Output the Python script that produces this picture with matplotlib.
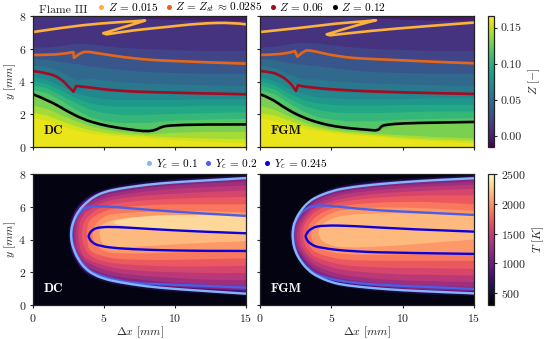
import numpy as np
import matplotlib
matplotlib.use("Agg")
import matplotlib.pyplot as plt
from matplotlib.path import Path
from matplotlib.patches import PathPatch
from matplotlib.lines import Line2D
from matplotlib.cm import ScalarMappable
from matplotlib.colors import Normalize

plt.rcParams.update({"font.family": "cmr10", "mathtext.fontset": "cm", "font.size": 8.5,
                     "axes.formatter.use_mathtext": True, "axes.unicode_minus": False,
                     "axes.linewidth": 0.9, "axes.edgecolor": "#222222"})

W, H = 549, 339

# ---- mixture fraction panels: band edges y(x) ----
Z_X = [0, 1, 2, 3, 4, 5, 6, 8, 10, 12, 15]
Z_EDGES = [.160, .148, .136, .124, .112, .100, .088, .076, .064, .052, .040, .028, .018, .004]
Z_DC = [
    [1.8, 1.6, 1.3, 1.05, .85, .75, .68, .55, .45, .35, .25],
    [2.1, 1.95, 1.6, 1.3, 1.05, .9, .8, .7, .6, .55, .5],
    [2.55, 2.35, 1.95, 1.6, 1.3, 1.1, .95, .8, .9, .95, .95],
    [3.25, 3.0, 2.4, 1.85, 1.5, 1.25, 1.1, 1.0, 1.35, 1.4, 1.42],
    [3.5, 3.3, 2.85, 2.3, 1.85, 1.6, 1.5, 1.5, 1.65, 1.7, 1.75],
    [3.8, 3.6, 3.15, 2.7, 2.3, 2.1, 2.0, 2.0, 2.05, 2.1, 2.15],
    [4.05, 3.85, 3.45, 3.0, 2.7, 2.55, 2.5, 2.5, 2.5, 2.55, 2.55],
    [4.3, 4.1, 3.7, 3.3, 3.1, 2.95, 2.9, 2.9, 2.9, 2.95, 2.95],
    [4.65, 4.5, 4.15, 3.5, 3.6, 3.4, 3.35, 3.3, 3.25, 3.25, 3.2],
    [5.0, 4.9, 4.6, 4.1, 4.2, 4.1, 4.0, 3.9, 3.85, 3.8, 3.75],
    [5.4, 5.35, 5.2, 5.1, 4.95, 4.85, 4.75, 4.6, 4.55, 4.5, 4.5],
    [5.75, 5.75, 5.8, 5.85, 5.85, 5.75, 5.6, 5.45, 5.35, 5.3, 5.3],
    [6.1, 6.1, 6.2, 6.35, 6.3, 6.2, 6.1, 6.0, 5.95, 5.9, 5.9],
    [8.1, 8.1, 8.1, 8.1, 8.1, 8.1, 8.1, 7.85, 7.8, 7.75, 7.75],
]
Z_FGM = [
    [1.8, 1.6, 1.35, 1.15, 1.0, .9, .8, .65, .5, .4, .25],
    [2.1, 1.95, 1.65, 1.35, 1.15, 1.0, .9, .75, .6, .5, .4],
    [2.55, 2.3, 1.9, 1.55, 1.3, 1.1, 1.0, .85, .75, .65, .55],
    [3.25, 2.95, 2.3, 1.8, 1.45, 1.25, 1.1, 1.0, 1.5, 1.52, 1.55],
    [3.5, 3.25, 2.7, 2.2, 1.85, 1.7, 1.6, 1.6, 1.7, 1.75, 1.8],
    [3.8, 3.55, 3.0, 2.55, 2.3, 2.15, 2.1, 2.1, 2.15, 2.2, 2.2],
    [4.05, 3.8, 3.3, 2.9, 2.7, 2.6, 2.55, 2.55, 2.6, 2.6, 2.6],
    [4.3, 4.05, 3.6, 3.25, 3.05, 3.0, 2.95, 2.95, 2.95, 3.0, 3.0],
    [4.65, 4.45, 4.05, 3.55, 3.5, 3.4, 3.35, 3.3, 3.25, 3.25, 3.2],
    [5.0, 4.85, 4.45, 4.15, 4.15, 4.05, 4.0, 3.9, 3.85, 3.8, 3.75],
    [5.4, 5.35, 5.15, 5.05, 4.95, 4.85, 4.75, 4.6, 4.55, 4.5, 4.5],
    [5.75, 5.75, 5.85, 5.9, 5.85, 5.75, 5.6, 5.45, 5.35, 5.3, 5.25],
    [6.1, 6.15, 6.3, 6.4, 6.35, 6.25, 6.15, 6.0, 5.95, 5.9, 5.9],
    [8.1, 8.1, 8.1, 8.1, 8.1, 8.1, 8.1, 7.9, 7.8, 7.75, 7.75],
]
# iso-Z lines (a repeated point keeps a sharp corner)
Z015_DC_X = [0, 2.37, 4.72, 7.3, 7.89, 7.89, 6.83, 4.95, 4.95, 5.19, 5.19, 7.07, 9.41, 11.76, 14.1, 15]
Z015_DC_Y = [7.02, 7.33, 7.55, 7.69, 7.72, 7.72, 7.43, 6.95, 6.95, 6.88, 6.88, 7.13, 7.33, 7.55, 7.6, 7.49]
Z0285_DC_X = [0, 1.2, 2.37, 2.84, 2.84, 2.89, 2.89, 3.31, 3.73, 4.72, 7.07, 9.41, 15]
Z0285_DC_Y = [5.62, 5.62, 5.72, 5.8, 5.8, 5.44, 5.44, 5.72, 5.85, 5.7, 5.4, 5.25, 5.09]
Z06_DC_X = [0, 1.2, 2.02, 2.49, 2.85, 2.85, 3.03, 3.03, 3.54, 5.9, 9.41, 15]
Z06_DC_Y = [4.64, 4.5, 4.13, 3.69, 3.38, 3.38, 3.72, 3.72, 3.69, 3.42, 3.32, 3.22]
Z12_DC_X = [0, 1.2, 2.37, 3.54, 4.72, 5.9, 7.07, 8, 8.6, 9.06, 9.65, 11.76, 15]
Z12_DC_Y = [3.22, 2.81, 2.2, 1.69, 1.38, 1.18, 1.04, .95, 1.02, 1.24, 1.32, 1.38, 1.38]
Z015_FGM_X = [0, 3.04, 5.37, 7.6, 8.13, 8.13, 7.0, 4.67, 4.67, 4.9, 4.9, 7.7, 11.2, 15]
Z015_FGM_Y = [7.02, 7.29, 7.55, 7.69, 7.74, 7.74, 7.49, 6.88, 6.88, 6.82, 6.82, 7.09, 7.35, 7.6]
Z0285_FGM_X = [0, .7, 1.87, 2.45, 2.45, 2.62, 2.62, 3.04, 3.39, 5.37, 7.7, 15]
Z0285_FGM_Y = [5.62, 5.63, 5.72, 5.86, 5.86, 5.52, 5.52, 5.82, 5.95, 5.52, 5.36, 5.11]
Z06_FGM_X = [0, .7, 1.4, 1.98, 2.33, 2.52, 2.52, 2.66, 2.66, 3.04, 5.37, 10.05, 15]
Z06_FGM_Y = [4.64, 4.6, 4.38, 4.03, 3.69, 3.42, 3.42, 3.77, 3.77, 3.69, 3.48, 3.32, 3.24]
Z12_FGM_X = [0, .7, 1.87, 3.04, 4.2, 5.37, 6.54, 7.7, 8.3, 8.46, 8.76, 10.05, 12.4, 15]
Z12_FGM_Y = [3.22, 3.02, 2.3, 1.79, 1.45, 1.24, 1.12, 1.04, 1.0, 1.24, 1.36, 1.45, 1.49, 1.53]

# ---- temperature panels: closed iso-T contours ----
T_X = [3, 3.5, 4, 5, 6, 8, 10, 12, 15]
T_EDGES = [450, 750, 1050, 1200, 1350, 1500, 1650, 1800, 1950, 2100, 2250]
# (nose x, nose y, upper y at stations, lower y at stations; lists are aligned to the right of T_X)
T_DC = [
    (2.5, 4.3, [5.95, 6.4, 6.75, 7.1, 7.3, 7.55, 7.7, 7.8, 7.95], [2.65, 2.05, 1.75, 1.4, 1.2, .95, .8, .7, .55]),
    (2.6, 4.3, [5.85, 6.3, 6.65, 7.0, 7.2, 7.45, 7.6, 7.7, 7.85], [2.75, 2.15, 1.85, 1.5, 1.3, 1.05, .9, .8, .65]),
    (2.75, 4.3, [5.6, 6.15, 6.45, 6.85, 7.05, 7.3, 7.45, 7.55, 7.7], [2.95, 2.35, 2.05, 1.7, 1.5, 1.25, 1.1, 1.0, .9]),
    (2.85, 4.3, [5.4, 6.0, 6.3, 6.7, 6.9, 7.15, 7.3, 7.42, 7.55], [3.15, 2.55, 2.25, 1.9, 1.7, 1.5, 1.35, 1.25, 1.15]),
    (3.0, 4.3, [5.75, 6.1, 6.5, 6.7, 6.95, 7.1, 7.2, 7.3], [2.8, 2.5, 2.15, 1.95, 1.75, 1.65, 1.55, 1.5]),
    (3.2, 4.3, [5.5, 5.85, 6.3, 6.5, 6.7, 6.8, 6.9, 7.0], [3.0, 2.7, 2.4, 2.2, 2.05, 2.0, 1.95, 1.95]),
    (3.45, 4.3, [5.6, 6.05, 6.25, 6.4, 6.5, 6.55, 6.6], [2.95, 2.65, 2.5, 2.4, 2.35, 2.35, 2.4]),
    (3.8, 4.3, [5.25, 5.75, 5.95, 6.1, 6.15, 6.15, 6.15], [3.25, 2.95, 2.8, 2.75, 2.75, 2.8, 2.85]),
    (4.2, 4.3, [5.45, 5.6, 5.7, 5.75, 5.75, 5.65], [3.25, 3.15, 3.15, 3.2, 3.25, 3.35]),
    (4.7, 4.4, [5.0, 5.3, 5.4, 5.4, 5.4, 5.3], [3.55, 3.5, 3.6, 3.7, 3.8, 3.9]),
    (5.7, 5.05, [5.2, 5.45, 5.5, 5.5, 5.45], [4.9, 4.65, 4.55, 4.5, 4.45]),
]
T_FGM = [
    (2.1, 4.3, [5.95, 6.45, 6.8, 7.15, 7.35, 7.6, 7.7, 7.8, 7.95], [2.45, 1.95, 1.6, 1.25, 1.05, .85, .72, .62, .55]),
    (2.2, 4.3, [5.85, 6.35, 6.7, 7.05, 7.25, 7.5, 7.6, 7.7, 7.85], [2.55, 2.05, 1.7, 1.35, 1.15, .95, .82, .72, .65]),
    (2.35, 4.3, [5.65, 6.2, 6.55, 6.9, 7.1, 7.35, 7.45, 7.55, 7.7], [2.75, 2.25, 1.9, 1.55, 1.35, 1.15, 1.0, .9, .85]),
    (2.45, 4.3, [5.5, 6.05, 6.4, 6.75, 6.95, 7.2, 7.3, 7.42, 7.55], [2.95, 2.45, 2.1, 1.75, 1.55, 1.35, 1.25, 1.15, 1.1]),
    (2.6, 4.3, [5.3, 5.85, 6.2, 6.55, 6.8, 7.0, 7.15, 7.25, 7.35], [3.15, 2.65, 2.35, 2.0, 1.8, 1.6, 1.5, 1.45, 1.4]),
    (2.8, 4.3, [5.05, 5.65, 6.0, 6.35, 6.55, 6.8, 6.9, 7.0, 7.1], [3.4, 2.9, 2.6, 2.3, 2.1, 1.95, 1.85, 1.85, 1.8]),
    (3.0, 4.3, [5.4, 5.8, 6.15, 6.35, 6.55, 6.65, 6.7, 6.7], [3.15, 2.85, 2.6, 2.4, 2.3, 2.25, 2.25, 2.2]),
    (3.3, 4.3, [5.0, 5.5, 5.9, 6.1, 6.25, 6.3, 6.3, 6.15], [3.5, 3.15, 2.9, 2.75, 2.7, 2.7, 2.7, 2.7]),
    (3.6, 4.3, [5.1, 5.65, 5.85, 5.95, 5.95, 5.9, 5.75], [3.5, 3.2, 3.1, 3.05, 3.1, 3.1, 3.15]),
    (4.1, 4.4, [5.3, 5.5, 5.6, 5.6, 5.55, 5.5], [3.6, 3.5, 3.55, 3.65, 3.8, 4.0]),
]
# iso-Yc lines, upper right -> nose -> lower right
Y1_DC_X = [15, 12, 10, 8, 6, 5, 4.3, 3.7, 3.2, 2.85, 2.68, 2.68, 2.85, 3.2, 3.7, 4.3, 5, 6, 8, 10, 12, 15]
Y1_DC_Y = [7.75, 7.6, 7.5, 7.35, 7.1, 6.9, 6.62, 6.22, 5.75, 5.15, 4.6, 4.0, 3.4, 2.75, 2.2, 1.85, 1.6, 1.4, 1.13, .98, .86, .69]
Y2_DC_X = [15, 11.76, 8.24, 5.66, 4.48, 3.8, 3.3, 2.88, 2.71, 2.71, 2.88, 3.25, 3.72, 4.3, 5.42, 7.07, 9.41, 11.76, 15]
Y2_DC_Y = [5.44, 5.6, 5.8, 6.0, 6.03, 6.0, 5.72, 5.12, 4.6, 4.0, 3.42, 2.78, 2.28, 1.92, 1.62, 1.32, 1.26, 1.18, 1.06]
Y3_DC_X = [15, 11.76, 8.24, 5.9, 4.72, 4.2, 3.92, 3.92, 4.2, 4.72, 5.9, 8.24, 11.76, 15]
Y3_DC_Y = [4.38, 4.48, 4.64, 4.77, 4.76, 4.62, 4.3, 4.1, 3.78, 3.6, 3.46, 3.36, 3.3, 3.3]
Y1_FGM_X = [15, 12, 10, 8, 6, 5, 4, 3.4, 2.85, 2.45, 2.29, 2.29, 2.45, 2.85, 3.4, 4, 5, 6, 8, 10, 12, 15]
Y1_FGM_Y = [7.74, 7.62, 7.5, 7.36, 7.15, 6.95, 6.62, 6.3, 5.78, 5.15, 4.6, 3.95, 3.3, 2.65, 2.1, 1.75, 1.38, 1.2, 1.02, .9, .82, .71]
Y2_FGM_X = [15, 11.2, 7.7, 4.9, 3.74, 3.1, 2.48, 2.32, 2.32, 2.48, 2.88, 3.42, 4.2, 6.54, 10.05, 15]
Y2_FGM_Y = [5.5, 5.66, 5.8, 6.07, 6.08, 5.85, 5.15, 4.6, 3.95, 3.32, 2.7, 2.18, 1.72, 1.32, 1.16, .98]
Y3_FGM_X = [15, 10.05, 6.54, 4.44, 3.6, 3.2, 3.2, 3.5, 4.2, 6.54, 10.05, 15]
Y3_FGM_Y = [4.48, 4.64, 4.83, 4.87, 4.72, 4.3, 4.1, 3.72, 3.48, 3.26, 3.18, 3.12]

Z_LABELS = [r"$Z\,=\,0.015$", r"$Z\,=\,Z_{st}\,\approx\,0.0285$", r"$Z\,=\,0.06$", r"$Z\,=\,0.12$"]
Y_LABELS = [r"$Y_c\,=\,0.1$", r"$Y_c\,=\,0.2$", r"$Y_c\,=\,0.245$"]

cmZ, normZ = plt.cm.viridis, Normalize(-0.0145, 0.166)
cmT, normT = plt.cm.magma, Normalize(300, 2500)
COL_Z = ["#fdb03b", "#e5651a", "#a50a20", "#000000"]
COL_Y = ["#82b6f8", "#4a5ee6", "#0c00dc"]


def rect(x0, y0, x1, y1):
    return [x0 / W, 1 - y1 / H, (x1 - x0) / W, (y1 - y0) / H]


def smooth(pts, closed):
    verts, codes = [pts[0]], [Path.MOVETO]
    for i in range(1, len(pts) - 1):
        end = pts[-1] if i == len(pts) - 2 else ((pts[i][0] + pts[i + 1][0]) / 2, (pts[i][1] + pts[i + 1][1]) / 2)
        verts += [pts[i], end]
        codes += [Path.CURVE3, Path.CURVE3]
    if closed:
        verts.append(pts[0])
        codes.append(Path.CLOSEPOLY)
    return Path(verts, codes)


def style(ax, xl, yl):
    ax.set_xlim(0, 15)
    ax.set_ylim(0, 8)
    ax.set_xticks([0, 5, 10, 15])
    ax.set_yticks([0, 2, 4, 6, 8])
    ax.tick_params(length=2.5, width=0.8, pad=2.5, labelbottom=xl, labelleft=yl, labelsize=8.5, color="#222222", labelcolor="#222222")
    if yl:
        ax.set_ylabel(r"$y\ [mm]$", fontsize=8.5, labelpad=0.5, color="#222222")
    if xl:
        ax.set_xlabel(r"$\Delta x\ [mm]$", fontsize=8.5, labelpad=0.5, color="#222222")


def top_panel(ax, table, lines, name, yl):
    ax.set_facecolor(cmZ(normZ(.160)))
    for e, row in zip(Z_EDGES, table):
        ax.fill_between(Z_X, row, 8.1, color=cmZ(normZ(e - .006)), lw=0)
    for c, (x, y) in zip(COL_Z, lines):
        ax.add_patch(PathPatch(smooth(list(zip(x, y)), False), fc="none", ec=c, lw=1.9, capstyle="butt", joinstyle="round"))
    ax.text(.75, 1.0, name, family="cmb10", fontsize=9.5, color="#111111", va="center")
    style(ax, False, yl)


def bot_panel(ax, table, lines, name, yl):
    ax.set_facecolor(cmT(normT(375)))
    for e, (nx, ny, up, lo) in zip(T_EDGES, table):
        st = T_X[-len(up):]
        d = .22 * (up[0] - lo[0])
        pts = list(zip(st[::-1], up[::-1])) + [(nx, ny + d), (nx, ny - d)] + list(zip(st, lo))
        ax.add_patch(PathPatch(smooth(pts, True), fc=cmT(normT(e + 75)), ec="none", lw=0))
    for c, (x, y), z in zip(COL_Y[::-1], lines[::-1], [4, 3, 5]):
        ax.add_patch(PathPatch(smooth(list(zip(x, y)), False), fc="none", ec=c, lw=1.7, zorder=z))
    ax.text(.75, 1.0, name, family="cmb10", fontsize=9.5, color="white", va="center")
    style(ax, True, yl)


fig = plt.figure(figsize=(W / 100, H / 100), dpi=100)
a1 = fig.add_axes(rect(33, 16, 246, 147))
a2 = fig.add_axes(rect(260, 16, 474, 147))
a3 = fig.add_axes(rect(33, 174, 246, 305))
a4 = fig.add_axes(rect(260, 174, 474, 305))
top_panel(a1, Z_DC, [(Z015_DC_X, Z015_DC_Y), (Z0285_DC_X, Z0285_DC_Y), (Z06_DC_X, Z06_DC_Y), (Z12_DC_X, Z12_DC_Y)], "DC", True)
top_panel(a2, Z_FGM, [(Z015_FGM_X, Z015_FGM_Y), (Z0285_FGM_X, Z0285_FGM_Y), (Z06_FGM_X, Z06_FGM_Y), (Z12_FGM_X, Z12_FGM_Y)], "FGM", False)
bot_panel(a3, T_DC, [(Y1_DC_X, Y1_DC_Y), (Y2_DC_X, Y2_DC_Y), (Y3_DC_X, Y3_DC_Y)], "DC", True)
bot_panel(a4, T_FGM, [(Y1_FGM_X, Y1_FGM_Y), (Y2_FGM_X, Y2_FGM_Y), (Y3_FGM_X, Y3_FGM_Y)], "FGM", False)

c1 = fig.add_axes(rect(488, 16, 494, 147))
cb1 = fig.colorbar(ScalarMappable(normZ, cmZ), cax=c1, ticks=[0, .05, .1, .15])
cb1.set_ticklabels(["0.00", "0.05", "0.10", "0.15"])
cb1.set_label(r"$Z\ [-]$", fontsize=8.5, labelpad=3, color="#222222")
c2 = fig.add_axes(rect(488, 174, 494, 305))
cb2 = fig.colorbar(ScalarMappable(normT, cmT), cax=c2, ticks=[500, 1000, 1500, 2000, 2500])
cb2.set_label(r"$T\ [K]$", fontsize=8.5, labelpad=3, color="#222222")
for cb in (cb1, cb2):
    cb.ax.tick_params(length=2.5, width=0.8, pad=2.5, labelsize=8.5, color="#222222", labelcolor="#222222")

fig.text(39 / W, 1 - 10 / H, "Flame III", fontsize=8.5, va="center", color="#222222")


def handle(c):
    return Line2D([], [], ls="none", marker="o", ms=2.6, mfc=c, mec=c)


fig.legend([handle(c) for c in COL_Z], Z_LABELS, ncols=4, frameon=False, fontsize=8.1, loc="center",
           bbox_to_anchor=(241.5 / W, 1 - 7.5 / H), handlelength=.8, handletextpad=.2, columnspacing=.5, borderpad=0)
fig.legend([handle(c) for c in COL_Y], Y_LABELS, ncols=3, frameon=False, fontsize=8.1, loc="center",
           bbox_to_anchor=(236 / W, 1 - 164 / H), handlelength=.8, handletextpad=.2, columnspacing=.5, borderpad=0)

fig.savefig("out.png", dpi=100)
